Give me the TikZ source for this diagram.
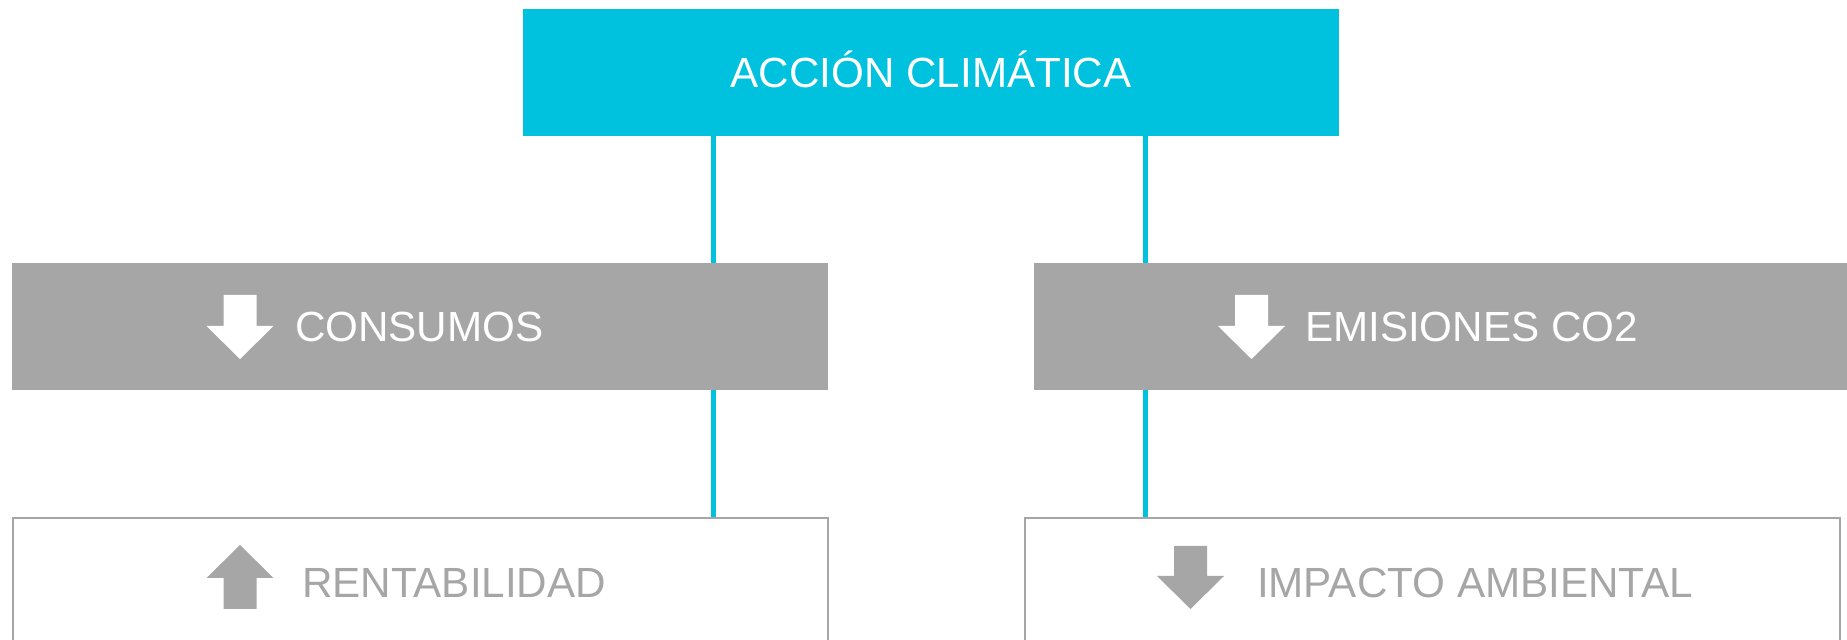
\documentclass[tikz,border=0pt]{standalone}
\usepackage{fontspec}
\setmainfont{Liberation Sans}
\definecolor{cyanbar}{HTML}{00C2DE}
\definecolor{greybox}{HTML}{A6A6A6}
\begin{document}
\begin{tikzpicture}[x=0.5pt,y=-0.5pt,
  lbl/.style={inner sep=0pt,outer sep=0pt,font=\fontsize{21.1pt}{25pt}\selectfont,anchor=base west},
  topbox/.style={fill=cyanbar,minimum width=408pt,minimum height=63.5pt,inner sep=0pt,outer sep=0pt},
  midbox/.style={fill=greybox,minimum width=408pt,minimum height=63.5pt,inner sep=0pt,outer sep=0pt},
  botbox/.style={draw=greybox,line width=1pt,fill=white,minimum width=407.5pt,minimum height=63.5pt,inner sep=0pt},
  conn/.style={draw=cyanbar,line width=2.5pt},
  whitearrow/.style={fill=white},
  greyarrow/.style={fill=greybox}
]
\useasboundingbox (0,0) rectangle (1847,640);
\coordinate (cl) at (713.5,0);
\coordinate (cr) at (1145,0);

% boxes
\node[topbox] (top) at (931,72.5) {};
\node[midbox] (ml) at (420,326.5) {};
\node[midbox] (mr) at (1442,326.5) {};
\node[botbox] (bl) at (420,581.5) {};
\node[botbox] (br) at (1432.5,581.5) {};

% connectors
\draw[conn] (top.south -| cl) -- (ml.north -| cl);
\draw[conn] (ml.south -| cl) -- (bl.north -| cl);
\draw[conn] (top.south -| cr) -- (mr.north -| cr);
\draw[conn] (mr.south -| cr) -- (br.north -| cr);

% labels
\node[lbl,anchor=base,text=white] (toplbl) at (931,87.5) {ACCIÓN CLIMÁTICA};
\node[lbl,text=white] (mllbl) at (295,342) {CONSUMOS};
\node[lbl,text=white] (mrlbl) at (1305,342) {EMISIONES CO2};
\node[lbl,text=greybox] (bllbl) at (302,597) {RENTABILIDAD};
\node[lbl,text=greybox] (brlbl) at (1257,597) {IMPACTO AMBIENTAL};

% arrows
\fill[whitearrow] (223.5,295) -- (256.5,295) -- (256.5,326) -- (273.5,326) -- (240,359) -- (206.5,326) -- (223.5,326) -- cycle;
\fill[whitearrow] (1235,295) -- (1268,295) -- (1268,326) -- (1285,326) -- (1251.5,359) -- (1218,326) -- (1235,326) -- cycle;
\fill[greyarrow] (223.5,609) -- (256.5,609) -- (256.5,578) -- (273.5,578) -- (240,545) -- (206.5,578) -- (223.5,578) -- cycle;
\fill[greyarrow] (1174,546) -- (1207,546) -- (1207,576) -- (1224,576) -- (1190.5,609) -- (1157,576) -- (1174,576) -- cycle;
\end{tikzpicture}
\end{document}
